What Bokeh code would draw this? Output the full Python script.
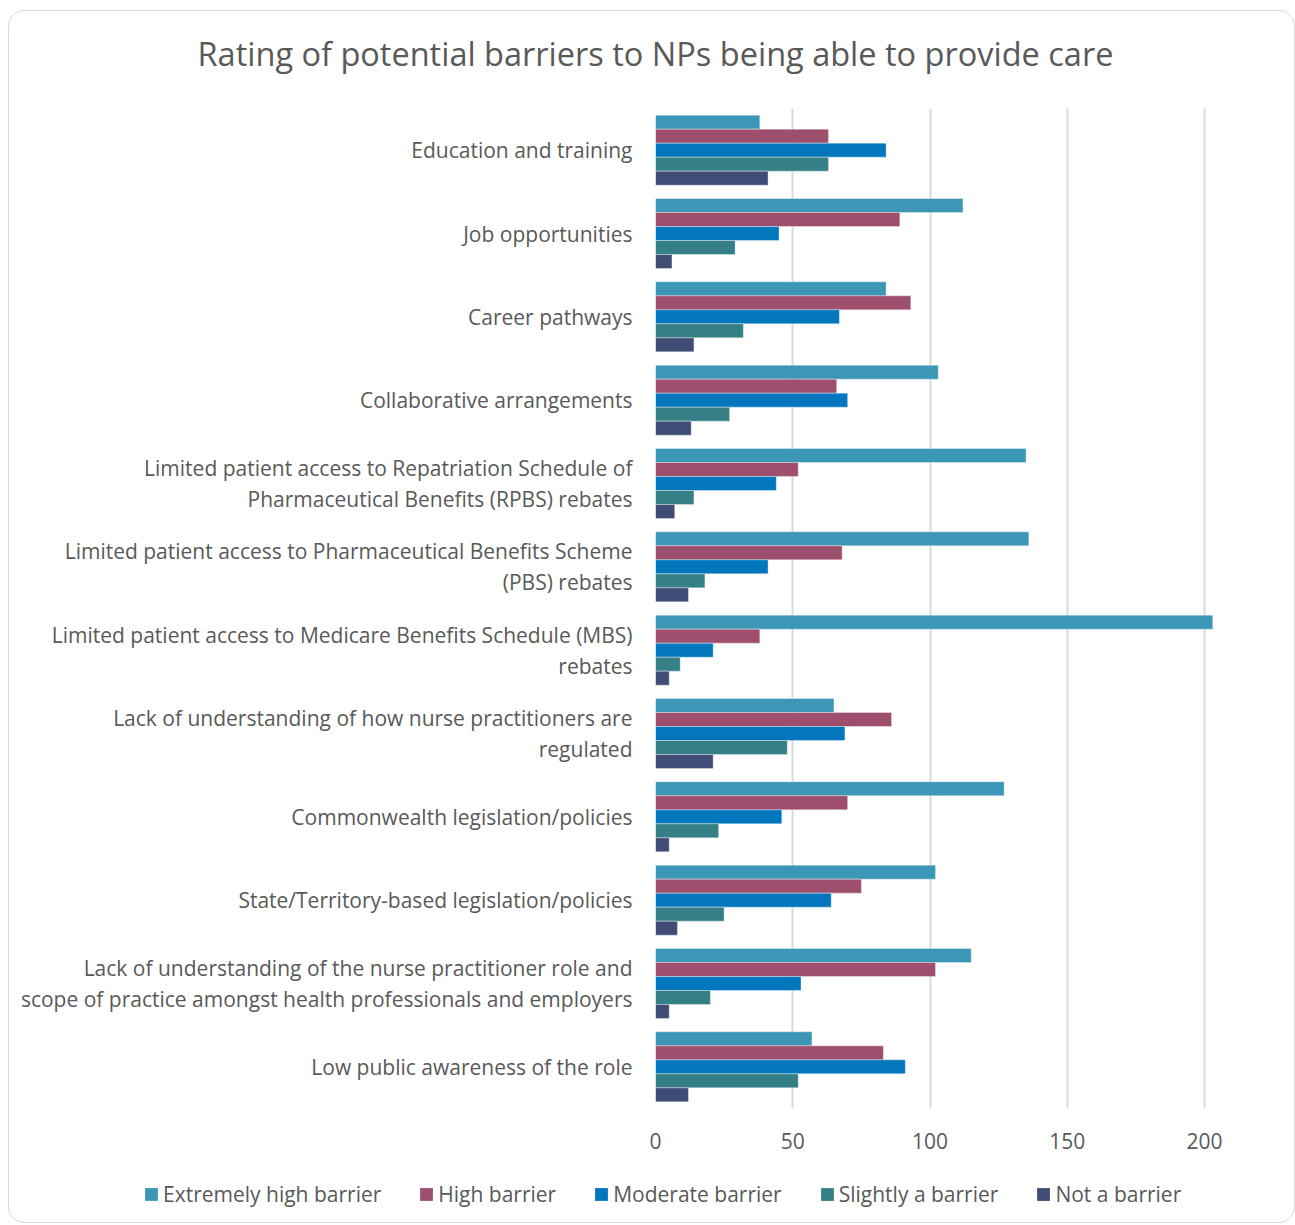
from bokeh.plotting import figure
from bokeh.models import (ColumnDataSource, Range1d, FixedTicker, Legend, LegendItem, Label)
from bokeh.layouts import column
from bokeh.transform import dodge
from bokeh.embed import file_html
from bokeh.resources import INLINE

categories = [
    "Education and training",
    "Job opportunities",
    "Career pathways",
    "Collaborative arrangements",
    "Limited patient access to Repatriation Schedule of\nPharmaceutical Benefits (RPBS) rebates",
    "Limited patient access to Pharmaceutical Benefits Scheme\n(PBS) rebates",
    "Limited patient access to Medicare Benefits Schedule (MBS)\nrebates",
    "Lack of understanding of how nurse practitioners are\nregulated",
    "Commonwealth legislation/policies",
    "State/Territory-based legislation/policies",
    "Lack of understanding of the nurse practitioner role and\nscope of practice amongst health professionals and employers",
    "Low public awareness of the role",
]
series_names = ["Extremely high barrier", "High barrier", "Moderate barrier",
                "Slightly a barrier", "Not a barrier"]
extremely_high = [38, 112, 84, 103, 135, 136, 203, 65, 127, 102, 115, 57]
high = [63, 89, 93, 66, 52, 68, 38, 86, 70, 75, 102, 83]
moderate = [84, 45, 67, 70, 44, 41, 21, 69, 46, 64, 53, 91]
slightly = [63, 29, 32, 27, 14, 18, 9, 48, 23, 25, 20, 52]
not_barrier = [41, 6, 14, 13, 7, 12, 5, 21, 5, 8, 5, 12]
x_ticks = [0, 50, 100, 150, 200]
title_text = "Rating of potential barriers to NPs being able to provide care"

colors = ["#3C97B7", "#9E4F6D", "#0277BD", "#357F86", "#3F4C75"]
FONT = "Open Sans"
TXT = "#595959"
W = 1285

n = len(categories)
pos = [n - i for i in range(n)]  # top category at highest position
data = {"pos": pos, "s0": extremely_high, "s1": high, "s2": moderate,
        "s3": slightly, "s4": not_barrier}
src = ColumnDataSource(data)


def blank(height):
    f = figure(width=W, height=height, output_backend="svg", toolbar_location=None,
               x_range=Range1d(0, W), y_range=Range1d(0, height),
               x_axis_type=None, y_axis_type=None, min_border=0, frame_align=False)
    f.outline_line_color = None
    f.grid.grid_line_color = None
    f.border_fill_color = None
    f.background_fill_color = None
    return f


# ---- title strip
tf = blank(72)
tf.add_layout(Label(x=646, y=30, text=title_text, text_font=FONT, text_font_size="32.5px",
                    text_color=TXT, text_align="center", text_baseline="middle"))

# ---- main chart
p = figure(width=W, height=1088, output_backend="svg", toolbar_location=None,
           x_range=Range1d(0, 208), y_range=Range1d(0.5, n + 0.5),
           min_border_left=646, min_border_right=68, min_border_top=25,
           min_border_bottom=63, frame_align=False)
p.outline_line_color = None
p.background_fill_color = "white"
p.border_fill_color = None

bh = 0.168
for j in range(5):
    off = (2 - j) * bh
    p.hbar(y=dodge("pos", off, range=p.y_range), right="s%d" % j, left=0,
           height=bh, source=src, fill_color=colors[j],
           line_color="white", line_alpha=0.35, line_width=1)

p.xaxis.ticker = FixedTicker(ticks=x_ticks)
p.xaxis.axis_line_color = None
p.xaxis.major_tick_line_color = None
p.xaxis.minor_tick_line_color = None
p.xaxis.major_label_text_font = FONT
p.xaxis.major_label_text_font_size = "21px"
p.xaxis.major_label_text_color = TXT
p.xaxis.major_label_standoff = 18

p.yaxis.ticker = FixedTicker(ticks=pos)
p.yaxis.major_label_overrides = {pv: c for pv, c in zip(pos, categories)}
p.yaxis.axis_line_color = None
p.yaxis.major_tick_line_color = None
p.yaxis.minor_tick_line_color = None
p.yaxis.major_label_text_font = FONT
p.yaxis.major_label_text_font_size = "21px"
p.yaxis.major_label_text_color = TXT
p.yaxis.major_label_text_align = "right"
p.yaxis.major_label_text_line_height = 1.1
p.yaxis.major_label_standoff = 17

p.ygrid.grid_line_color = None
p.xgrid.ticker = FixedTicker(ticks=x_ticks)
p.xgrid.grid_line_color = "#D9D9D9"
p.xgrid.grid_line_width = 2

# ---- legend strip
lf = blank(51)
items = []
for j in range(5):
    r = lf.hbar(y=[-100], right=[0], left=0, height=1, fill_color=colors[j], line_color=None)
    items.append(LegendItem(label=series_names[j], renderers=[r]))
legend = Legend(items=items, orientation="horizontal", location=(134, 14),
                glyph_width=16, glyph_height=16, label_standoff=4, spacing=37,
                padding=0, margin=0, border_line_color=None, background_fill_alpha=0,
                label_text_font=FONT, label_text_font_size="21px", label_text_color=TXT)
lf.add_layout(legend)

layout = column(tf, p, lf, spacing=0)
layout.styles = {"margin-left": "8px", "margin-top": "10px",
                 "border": "1px solid #D9D9D9", "border-radius": "16px"}

open("out.html", "w").write(file_html(layout, INLINE))
